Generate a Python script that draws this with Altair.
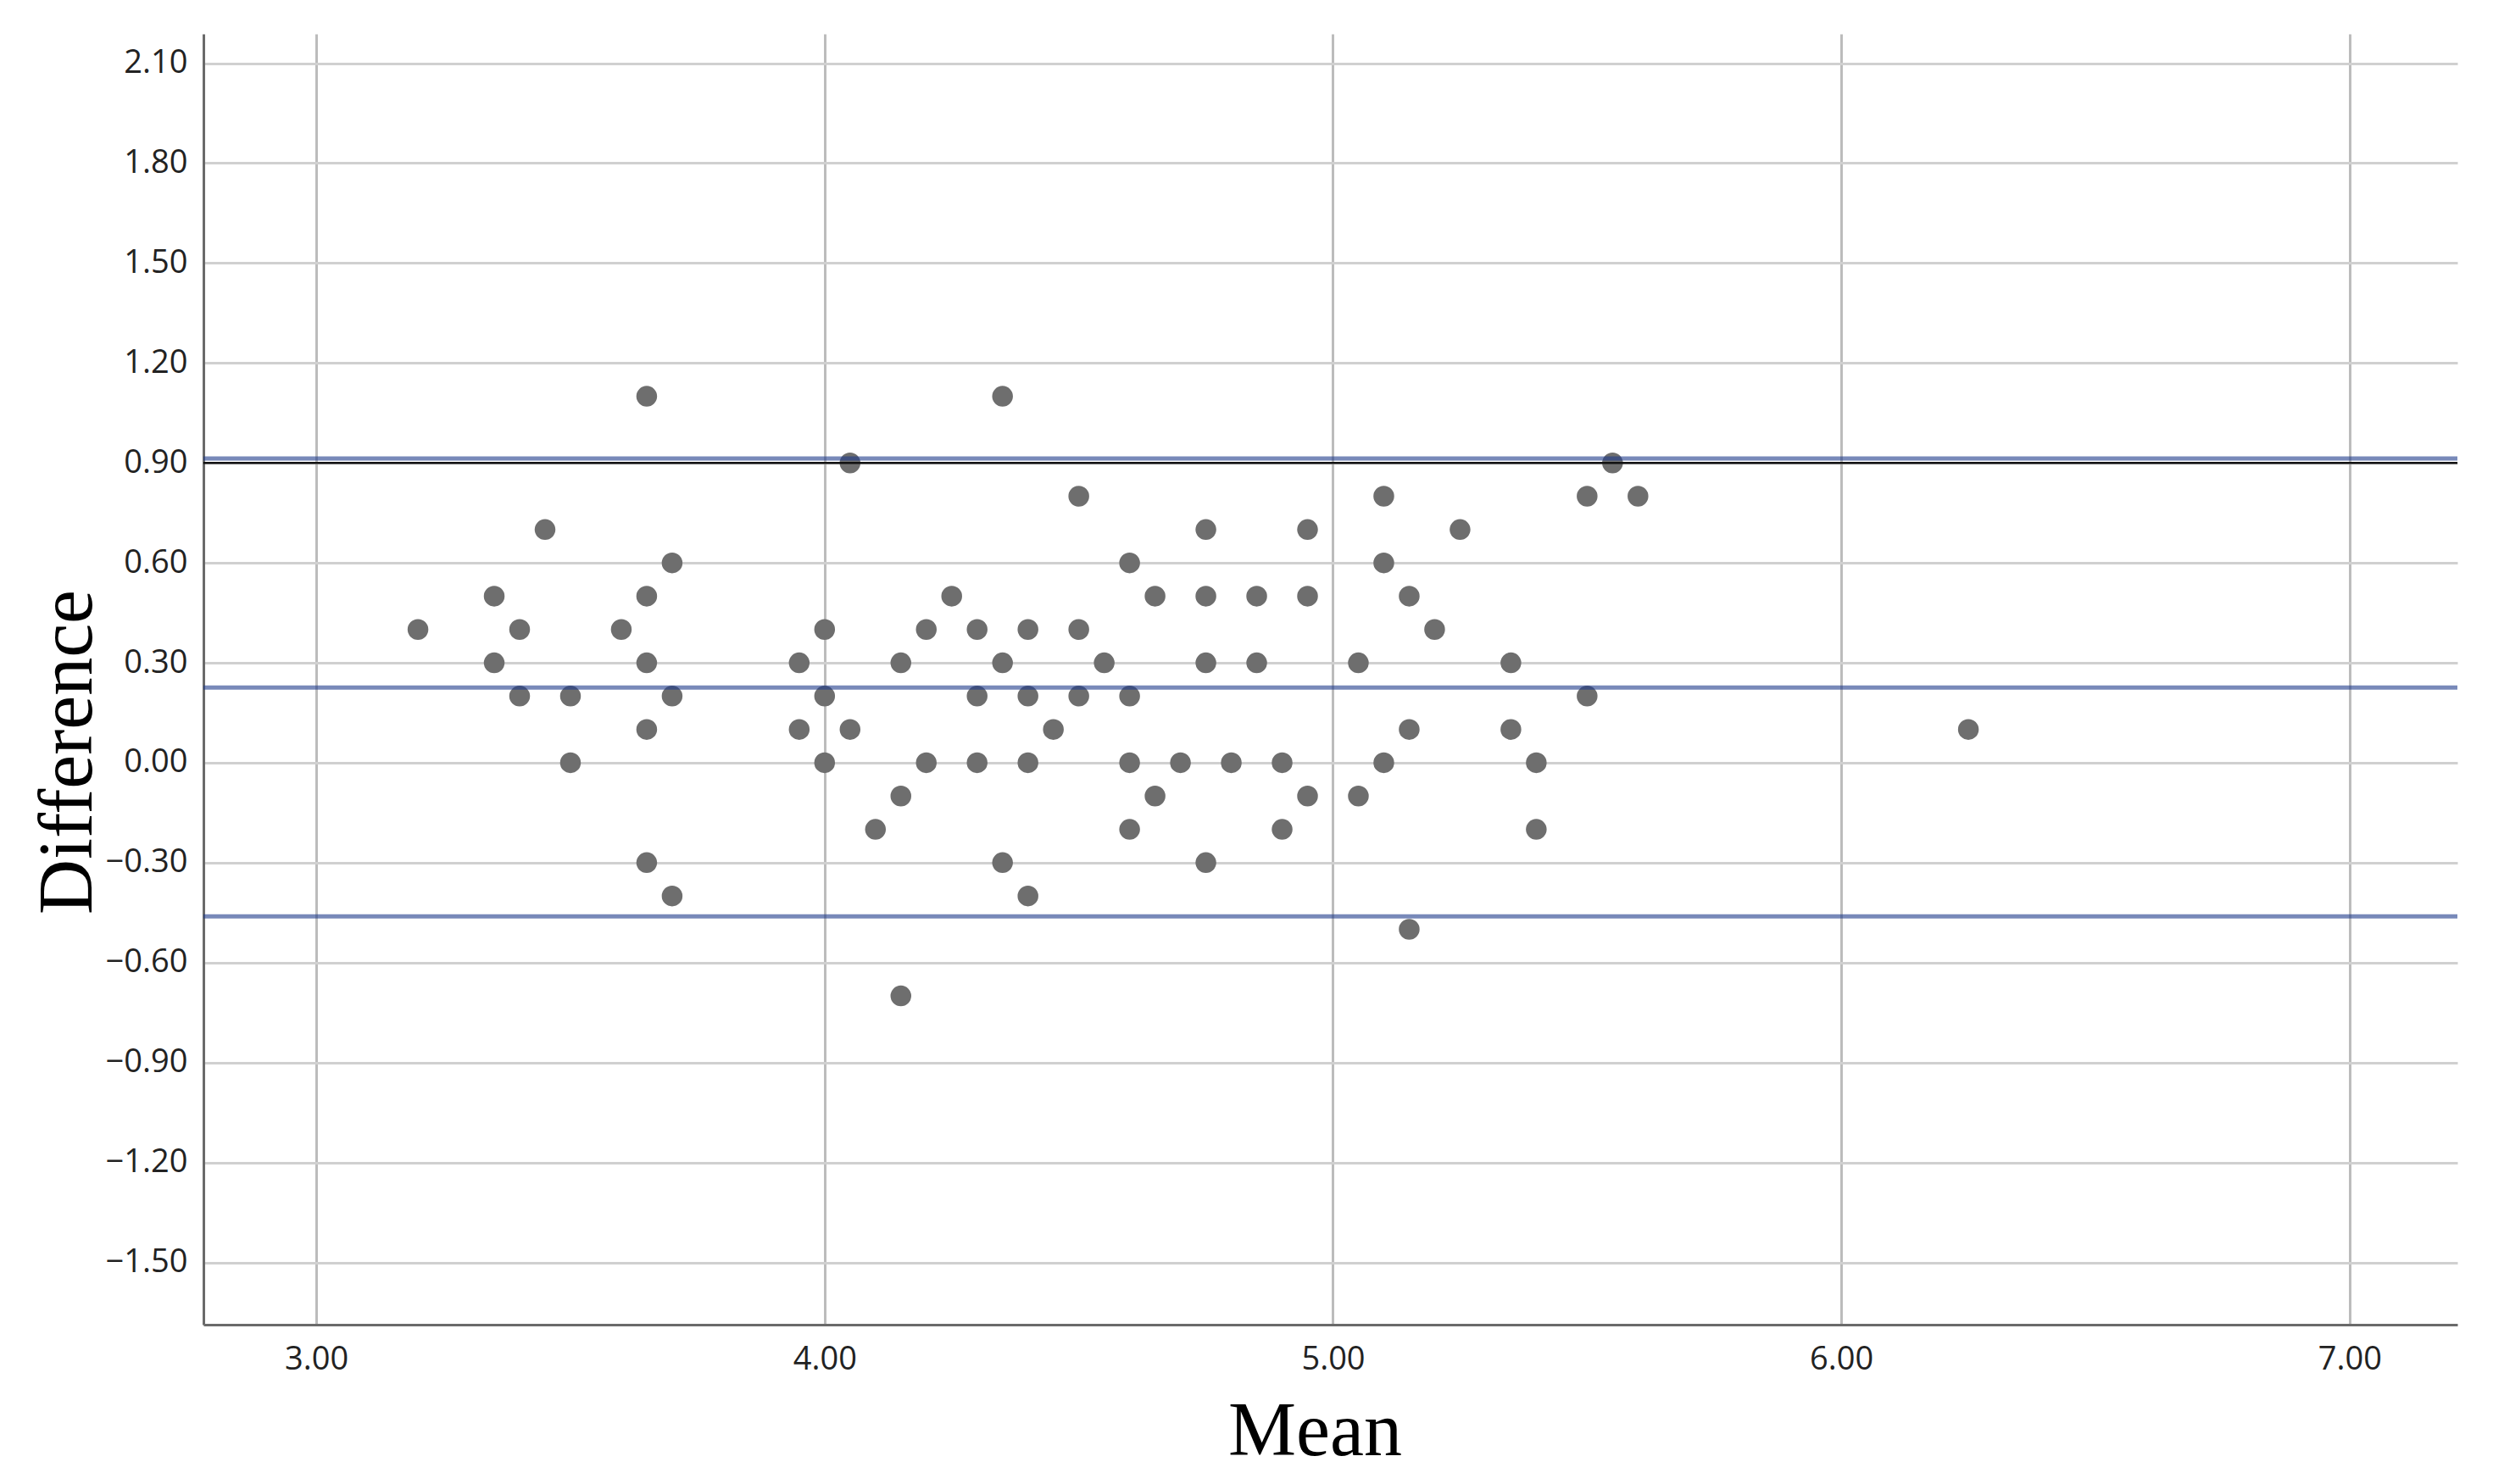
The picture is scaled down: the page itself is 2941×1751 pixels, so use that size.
import altair as alt
import pandas as pd

# ---- data (Bland-Altman plot) ----
mean_x = [3.20, 3.35, 3.35, 3.40, 3.40, 3.45, 3.50, 3.50, 3.60, 3.65,
          3.65, 3.65, 3.65, 3.65, 3.70, 3.70, 3.70, 3.95, 3.95, 4.00,
          4.00, 4.00, 4.05, 4.05, 4.10, 4.15, 4.15, 4.15, 4.20, 4.20,
          4.25, 4.30, 4.30, 4.30, 4.35, 4.35, 4.35, 4.40, 4.40, 4.40,
          4.40, 4.45, 4.50, 4.50, 4.50, 4.55, 4.60, 4.60, 4.60, 4.60,
          4.65, 4.65, 4.70, 4.75, 4.75, 4.75, 4.75, 4.80, 4.85, 4.85,
          4.90, 4.90, 4.95, 4.95, 4.95, 5.05, 5.05, 5.10, 5.10, 5.10,
          5.15, 5.15, 5.15, 5.20, 5.25, 5.35, 5.35, 5.40, 5.40, 5.50,
          5.50, 5.55, 5.60, 6.25]
diff_y = [0.40, 0.50, 0.30, 0.40, 0.20, 0.70, 0.20, 0.00, 0.40, 1.10,
          0.50, 0.30, 0.10, -0.30, 0.60, 0.20, -0.40, 0.30, 0.10, 0.40,
          0.20, 0.00, 0.90, 0.10, -0.20, 0.30, -0.10, -0.70, 0.40, 0.00,
          0.50, 0.40, 0.20, 0.00, 1.10, 0.30, -0.30, 0.40, 0.20, 0.00,
          -0.40, 0.10, 0.80, 0.40, 0.20, 0.30, 0.60, 0.20, 0.00, -0.20,
          0.50, -0.10, 0.00, 0.70, 0.50, 0.30, -0.30, 0.00, 0.50, 0.30,
          0.00, -0.20, 0.70, 0.50, -0.10, 0.30, -0.10, 0.80, 0.60, 0.00,
          0.50, 0.10, -0.50, 0.40, 0.70, 0.30, 0.10, 0.00, -0.20, 0.80,
          0.20, 0.90, 0.80, 0.10]

limit_lines = [0.913, 0.226, -0.461]   # upper LoA, mean difference, lower LoA
reference_line = [0.90]

x_ticks = [3.0, 4.0, 5.0, 6.0, 7.0]
y_ticks = [-1.5, -1.2, -0.9, -0.6, -0.3, 0.0, 0.3, 0.6, 0.9, 1.2, 1.5, 1.8, 2.1]

x_domain = [2.778, 7.212]
y_domain = [-1.687, 2.188]

points_df = pd.DataFrame({"mean": mean_x, "diff": diff_y})
limits_df = pd.DataFrame({"diff": limit_lines})
ref_df = pd.DataFrame({"diff": reference_line})

x_enc = alt.X(
    "mean:Q",
    scale=alt.Scale(domain=x_domain, nice=False, zero=False),
    axis=alt.Axis(
        values=x_ticks, format=".2f", title="Mean",
        gridColor="#bcbcbc", gridWidth=3,
        labelPadding=22,
        titleFont="Liberation Serif", titleFontSize=90, titleFontWeight="normal",
        titleColor="#000000", titleAlign="center", titleBaseline="alphabetic",
        titleX=1311, titleY=153,
    ),
)

y_enc = alt.Y(
    "diff:Q",
    scale=alt.Scale(domain=y_domain, nice=False, zero=False),
    axis=alt.Axis(
        values=y_ticks, format=".2f", title="Difference",
        gridColor="#d0d0d0", gridWidth=3,
        labelPadding=19,
        titleFont="Liberation Serif", titleFontSize=90, titleFontWeight="normal",
        titleColor="#000000", titleAngle=270, titleAlign="center",
        titleBaseline="alphabetic", titleX=-133, titleY=847,
    ),
)

points = alt.Chart(points_df).mark_circle(
    size=600, color="#6e6e6e", opacity=1
).encode(x=x_enc, y=y_enc)

ref_rule = alt.Chart(ref_df).mark_rule(
    color="#111111", strokeWidth=2.5
).encode(y=y_enc)

limit_rules = alt.Chart(limits_df).mark_rule(
    color="#1e3a8a", strokeWidth=5, opacity=0.6
).encode(y=y_enc)

chart = (
    alt.layer(points, ref_rule, limit_rules)
    .properties(
        width=2659, height=1523,
        autosize=alt.AutoSizeParams(type="none"),
        padding={"left": 232, "top": 32, "right": 30, "bottom": 182},
        background="white",
    )
    .configure_view(stroke=None)
    .configure_axis(
        domainColor="#6a6a6a", domainWidth=3, ticks=False,
        labelFont="Open Sans", labelFontSize=38, labelColor="#222222",
    )
)

chart.save("out.html", embed_options={"renderer": "svg", "actions": False})
